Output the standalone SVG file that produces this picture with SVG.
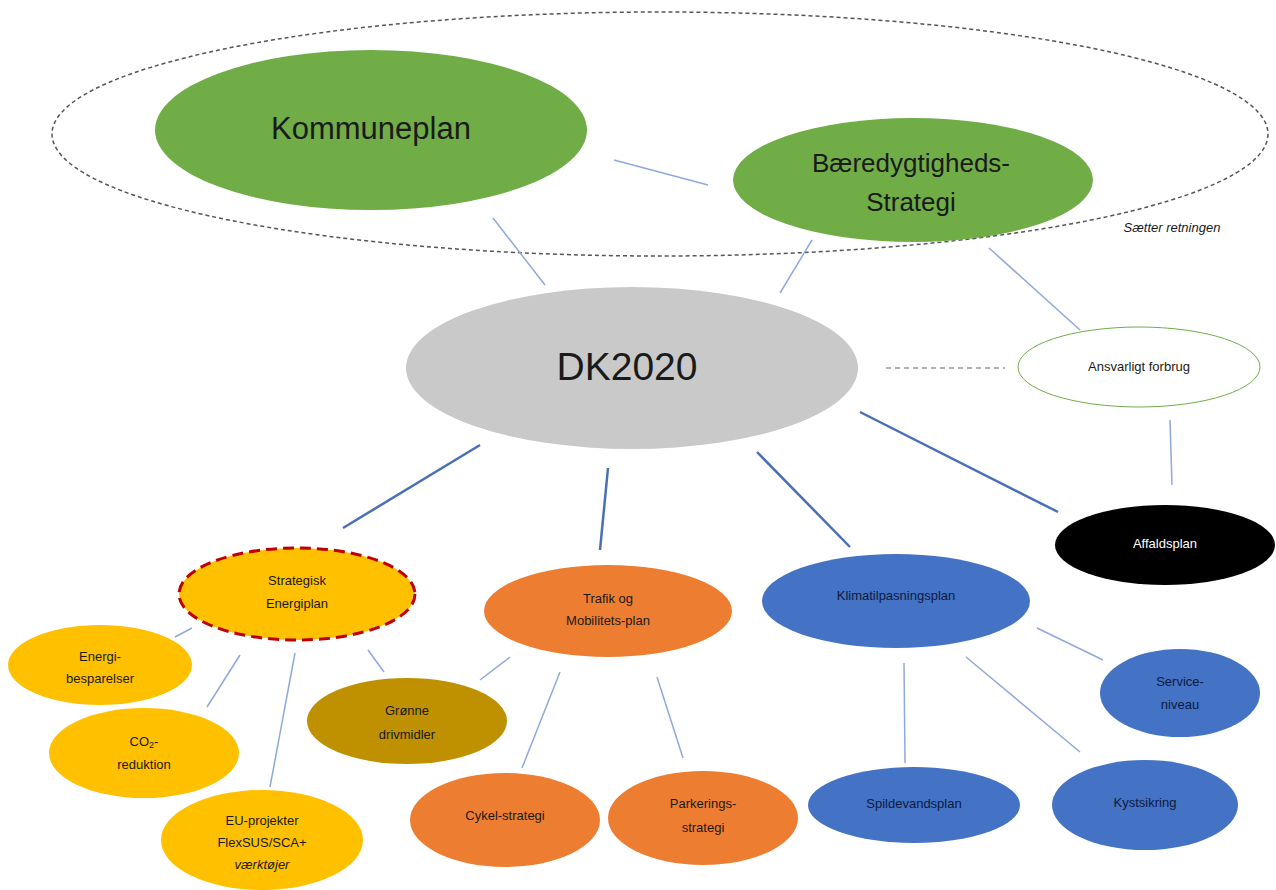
<svg xmlns="http://www.w3.org/2000/svg" width="1276" height="890" viewBox="0 0 1276 890">
<style>
text{font-family:"Liberation Sans","Noto Sans",Arial,sans-serif;text-anchor:middle;dominant-baseline:central;fill:#1a1a1a}
.c{stroke:#8ea9db;stroke-width:1.5;fill:none}
.t{stroke:#4a6fb5;stroke-width:2.5;fill:none}
.s{font-size:13px}
.green{fill:#70ad47}
.yel{fill:#ffc000}
.org{fill:#ed7d31}
.blu{fill:#4472c4}
</style>
<rect width="1276" height="890" fill="#ffffff"/>
<g id="scope">
<ellipse cx="660" cy="134" rx="608" ry="122" fill="none" stroke="#555" stroke-width="1.5" stroke-dasharray="4 3"/>
<text x="1172" y="227" font-size="13" font-style="italic" fill="#333">Sætter retningen</text>
</g>
<g id="connectors">
<line class="c" x1="614" y1="160" x2="708" y2="185"/>
<line class="c" x1="493" y1="218" x2="545" y2="285"/>
<line class="c" x1="812" y1="240" x2="780" y2="293"/>
<line class="c" x1="989" y1="248" x2="1080" y2="330"/>
<line x1="886" y1="368" x2="1005" y2="368" stroke="#999" stroke-width="1.5" stroke-dasharray="5 4"/>
<line class="c" x1="1170" y1="420" x2="1172" y2="485"/>
<line class="t" x1="860" y1="412" x2="1058" y2="512"/>
<line class="t" x1="480" y1="445" x2="343" y2="528"/>
<line class="t" x1="608" y1="468" x2="600" y2="550"/>
<line class="t" x1="757" y1="452" x2="850" y2="547"/>
<line class="c" x1="192" y1="628" x2="175" y2="637"/>
<line class="c" x1="240" y1="655" x2="207" y2="707"/>
<line class="c" x1="295" y1="653" x2="270" y2="787"/>
<line class="c" x1="368" y1="650" x2="384" y2="672"/>
<line class="c" x1="510" y1="657" x2="480" y2="680"/>
<line class="c" x1="560" y1="672" x2="522" y2="768"/>
<line class="c" x1="657" y1="677" x2="683" y2="758"/>
<line class="c" x1="904" y1="663" x2="905" y2="763"/>
<line class="c" x1="966" y1="657" x2="1080" y2="752"/>
<line class="c" x1="1037" y1="628" x2="1103" y2="660"/>
</g>
<g id="kommuneplan"><ellipse class="green" cx="371" cy="130" rx="216" ry="80"/><text x="371" y="128" font-size="31">Kommuneplan</text></g>
<g id="baeredygtighed"><ellipse class="green" cx="913" cy="180" rx="180" ry="62"/><text x="911" y="163" font-size="26">Bæredygtigheds-</text><text x="911" y="202" font-size="26">Strategi</text></g>
<g id="dk2020"><ellipse cx="632" cy="368" rx="226" ry="81" fill="#c9c9c9"/><text x="627" y="366" font-size="39">DK2020</text></g>
<g id="ansvarligt"><ellipse cx="1139" cy="367" rx="121" ry="40" fill="#fff" stroke="#70ad47" stroke-width="1"/><text class="s" x="1139" y="366">Ansvarligt forbrug</text></g>
<g id="affaldsplan"><ellipse cx="1165" cy="545" rx="110" ry="40" fill="#000"/><text class="s" x="1165" y="543" style="fill:#fff">Affaldsplan</text></g>
<g id="strategisk"><ellipse class="yel" cx="297" cy="594" rx="118" ry="46" stroke="#c00000" stroke-width="3" stroke-dasharray="11 6"/><text class="s" x="297" y="580">Strategisk</text><text class="s" x="297" y="603">Energiplan</text></g>
<g id="trafik"><ellipse class="org" cx="608" cy="611" rx="124" ry="46"/><text class="s" x="608" y="598">Trafik og</text><text class="s" x="608" y="620">Mobilitets-plan</text></g>
<g id="klima"><ellipse class="blu" cx="896" cy="601" rx="134" ry="47"/><text class="s" x="896" y="595" style="fill:#0d1a40">Klimatilpasningsplan</text></g>
<g id="energibesparelser"><ellipse class="yel" cx="100" cy="665" rx="92" ry="40"/><text class="s" x="100" y="656">Energi-</text><text class="s" x="100" y="678">besparelser</text></g>
<g id="co2"><ellipse class="yel" cx="144" cy="753" rx="95" ry="45"/><text class="s" x="144" y="741">CO<tspan font-size="9" dy="4">2</tspan><tspan dy="-4">-</tspan></text><text class="s" x="144" y="764">reduktion</text></g>
<g id="euprojekter"><ellipse class="yel" cx="262" cy="840" rx="101" ry="50"/><text class="s" x="262" y="820">EU-projekter</text><text class="s" x="262" y="842">FlexSUS/SCA+</text><text class="s" x="262" y="864" font-style="italic">værktøjer</text></g>
<g id="groenne"><ellipse cx="407" cy="721" rx="100" ry="43" fill="#bf9000"/><text class="s" x="407" y="710">Grønne</text><text class="s" x="407" y="734">drivmidler</text></g>
<g id="cykel"><ellipse class="org" cx="505" cy="820" rx="95" ry="47"/><text class="s" x="505" y="815">Cykel-strategi</text></g>
<g id="parkering"><ellipse class="org" cx="703" cy="818" rx="95" ry="47"/><text class="s" x="703" y="803">Parkerings-</text><text class="s" x="703" y="827">strategi</text></g>
<g id="spildevand"><ellipse class="blu" cx="914" cy="805" rx="106" ry="38"/><text class="s" x="914" y="803" style="fill:#0d1a40">Spildevandsplan</text></g>
<g id="kystsikring"><ellipse class="blu" cx="1145" cy="805" rx="93" ry="45"/><text class="s" x="1145" y="802" style="fill:#0d1a40">Kystsikring</text></g>
<g id="service"><ellipse class="blu" cx="1180" cy="693" rx="80" ry="44"/><text class="s" x="1180" y="681" style="fill:#0d1a40">Service-</text><text class="s" x="1180" y="704" style="fill:#0d1a40">niveau</text></g>
</svg>
